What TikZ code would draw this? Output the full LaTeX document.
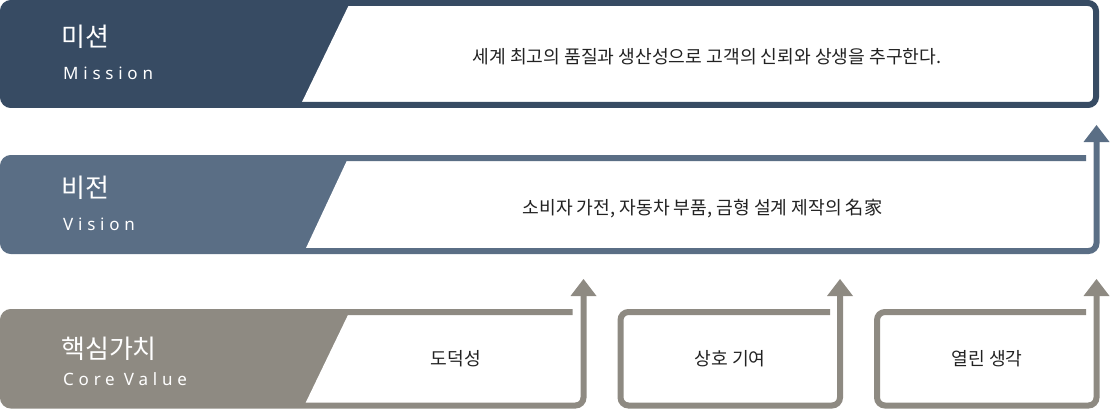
\documentclass[tikz,border=0pt]{standalone}
\usepackage{fontspec}
\setmainfont{Noto Sans}
\newfontfamily\krfont{Noto Sans CJK KR}
\newfontfamily\latsp[LetterSpace=28]{Noto Sans}
\usetikzlibrary{arrows.meta}
\definecolor{cmis}{HTML}{374B63}
\definecolor{cvis}{HTML}{5A6E85}
\definecolor{ccore}{HTML}{8E8A82}
\definecolor{ctext}{HTML}{222222}
\begin{document}
\begin{tikzpicture}[x=1pt,y=-1pt,
  frame/.style={line width=6pt, rounded corners=8pt},
  uptip/.style={-{Triangle[length=17pt,width=26pt,line width=0pt]}},
  body/.style={inner sep=0pt, text=ctext, font=\krfont\fontsize{18.2}{22}\selectfont},
  ttl/.style={inner sep=0pt, text=white, anchor=base west, font=\krfont\fontsize{26}{30}\selectfont},
  sub/.style={inner sep=0pt, text=white, anchor=base west, font=\latsp\fontsize{17}{20}\selectfont}]
\useasboundingbox (0,0) rectangle (1110,409);
% tips
\coordinate (misTip) at (1096.5,125);
\coordinate (tipA) at (583.5,279);
\coordinate (tipB) at (840,279);
\coordinate (tipC) at (1096.5,279);
% ---- Mission
\fill[cmis, rounded corners=8pt] (3,3) rectangle (1096,105);
\fill[white] (348.4,6) -- (1093,6) -- (1093,102) -- (302,102) -- cycle;
\draw[cmis, frame] (3,3) rectangle (1096,105);
\node[ttl] (misT) at (61,47) {미션};
\node[sub] (misS) at (63,80) {Mission};
\node[body] (misB) at (707,56.5) {세계 최고의 품질과 생산성으로 고객의 신뢰와 상생을 추구한다.};
% ---- Vision
\fill[cvis, rounded corners=8pt] (3,158) rectangle (400,251);
\fill[white] (348.1,158) -- (1090,158) -- (1090,251) -- (304.6,251) -- cycle;
\draw[cvis, frame, uptip] (1086,158) -- (3,158) -- (3,251) -- (1096.5,251) -- (misTip);
\node[ttl] (visT) at (61,197) {비전};
\node[sub] (visS) at (63,230) {Vision};
\node[body] (visB) at (702.5,208.5) {소비자 가전, 자동차 부품, 금형 설계 제작의 名家};
% ---- Core values
\fill[ccore, rounded corners=8pt] (3,312) rectangle (400,405.5);
\fill[white] (349.4,312) -- (578,312) -- (578,405.5) -- (304.3,405.5) -- cycle;
\draw[ccore, frame, uptip] (572.7,312) -- (3,312) -- (3,405.5) -- (583.5,405.5) -- (tipA);
\draw[ccore, frame, uptip] (830,312) -- (620.5,312) -- (620.5,405.5) -- (840,405.5) -- (tipB);
\draw[ccore, frame, uptip] (1086,312) -- (877,312) -- (877,405.5) -- (1096.5,405.5) -- (tipC);
\node[ttl] (coreT) at (61,358) {핵심가치};
\node[sub] (coreS) at (63,385) {Core Value};
\node[body] (v1) at (456,359) {도덕성};
\node[body] (v2) at (730,359) {상호 기여};
\node[body] (v3) at (987,359) {열린 생각};
\end{tikzpicture}
\end{document}
